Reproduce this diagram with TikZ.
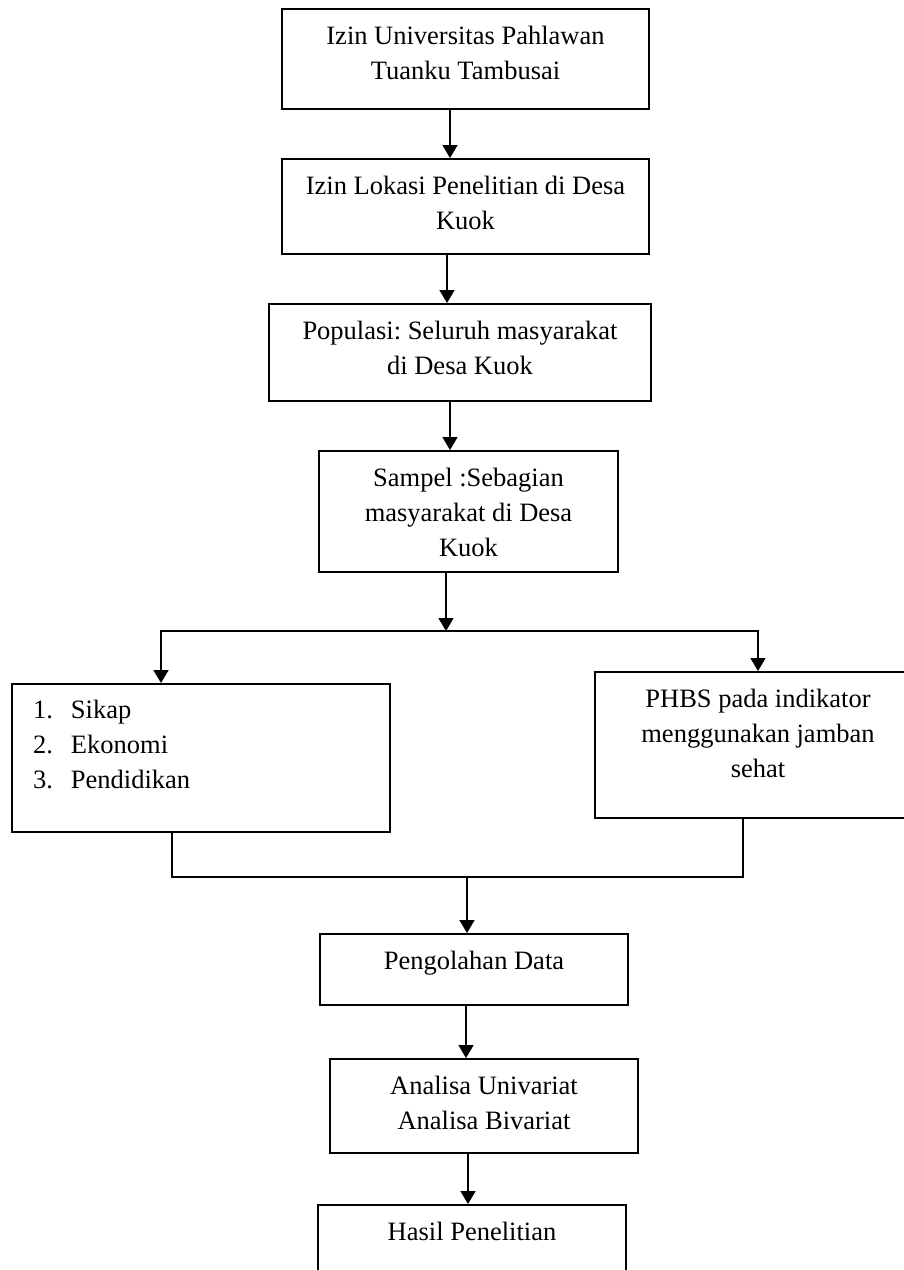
\documentclass[tikz,border=0pt]{standalone}
\usepackage{fontspec}
\setmainfont{Liberation Serif}
\usetikzlibrary{arrows.meta}
\frenchspacing

\newcommand{\boxtxt}[3]{\parbox[c][#2][t]{#1}{\centering\rule{0pt}{35pt}#3}}

\begin{document}
\begin{tikzpicture}[x=1pt, y=-1pt,
    box/.style={draw, line width=2pt, inner sep=0pt, anchor=north west},
    line/.style={line width=1.7pt},
    arr/.style={line, -{Triangle[length=13pt,width=15pt]}},
    font=\fontsize{26.5}{35}\selectfont]
    \useasboundingbox (0,0) rectangle (904,1270);
    \clip (0,0) rectangle (904,1270);

    % top column
    \node[box] (izin) at (281,8) {\boxtxt{367pt}{100pt}{Izin Universitas Pahlawan\\Tuanku Tambusai}};
    \node[box] (lokasi) at (281,158) {\boxtxt{367pt}{95pt}{Izin Lokasi Penelitian di Desa\\Kuok}};
    \node[box] (populasi) at (268,303) {\boxtxt{382pt}{97pt}{Populasi: Seluruh masyarakat\\di Desa Kuok}};
    \node[box] (sampel) at (318,450) {\boxtxt{299pt}{121pt}{Sampel :Sebagian\\masyarakat di Desa\\Kuok}};

    % two branches
    \node[box] (variabel) at (11,683) {\parbox[c][148pt][t]{378pt}{\raggedright\leftskip=21pt
        \rule{0pt}{34pt}\makebox[38pt][l]{1.}Sikap\\
        \makebox[38pt][l]{2.}Ekonomi\\
        \makebox[38pt][l]{3.}Pendidikan}};
    \node[box] (phbs) at (594,671) {\boxtxt{326pt}{146pt}{PHBS pada indikator\\menggunakan jamban\\sehat}};

    % bottom column
    \node[box] (olah) at (319,933) {\boxtxt{308pt}{71pt}{Pengolahan Data}};
    \node[box] (analisa) at (329,1058) {\boxtxt{308pt}{94pt}{Analisa Univariat\\Analisa Bivariat}};
    \node[box] (hasil) at (317,1204) {\boxtxt{308pt}{80pt}{Hasil Penelitian}};

    \coordinate (bagi) at (446,631);
    \coordinate (gabung) at (467,877);

    % arrows
    \draw[arr] ([xshift=-15.5pt]izin.south) -- ([xshift=-15.5pt]izin.south |- lokasi.north);
    \draw[arr] ([xshift=-18.5pt]lokasi.south) -- ([xshift=-18.5pt]lokasi.south |- populasi.north);
    \draw[arr] ([xshift=-10pt]populasi.south) -- ([xshift=-10pt]populasi.south |- sampel.north);
    \draw[arr] (sampel.south -| bagi) -- (bagi);
    \draw[arr] (bagi) -| ([xshift=-40pt]variabel.north);
    \draw[arr] (bagi) -| (phbs.north);
    \draw[line] ([xshift=-29pt]variabel.south) |- (gabung) -| ([xshift=-15pt]phbs.south);
    \draw[arr] (gabung) -- (gabung |- olah.north);
    \draw[arr] ([xshift=-8pt]olah.south) -- ([xshift=-8pt]olah.south |- analisa.north);
    \draw[arr] ([xshift=-16pt]analisa.south) -- ([xshift=-16pt]analisa.south |- hasil.north);
\end{tikzpicture}
\end{document}
